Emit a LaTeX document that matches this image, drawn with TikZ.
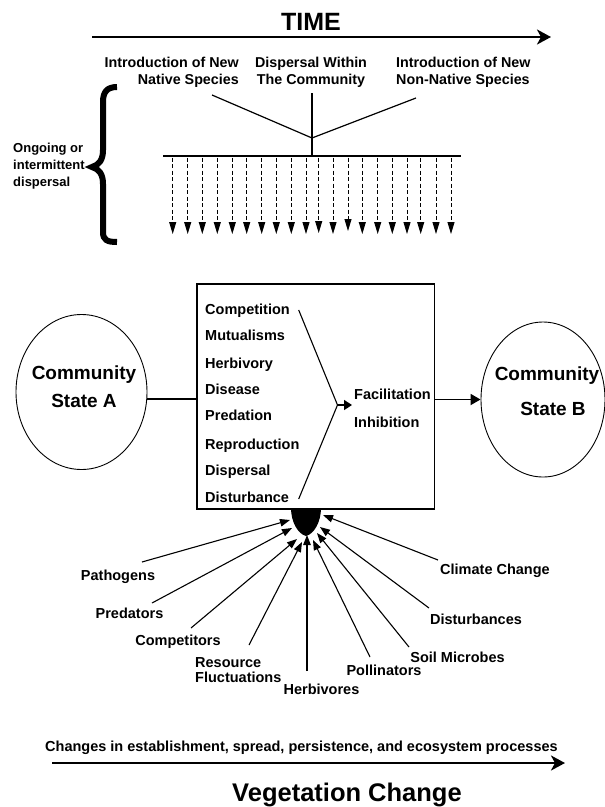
\documentclass[tikz,border=0pt]{standalone}
\usepackage{fontspec}
\setmainfont{Liberation Sans}
\usetikzlibrary{arrows.meta,shapes.geometric}
\begin{document}
\begin{tikzpicture}[x=1pt,y=-1pt,
  txt/.style={inner sep=0pt, font=\bfseries\fontsize{14.5}{17}\selectfont},
  toplab/.style={inner sep=0pt, font=\bfseries\fontsize{14.3}{17}\selectfont},
  bigarrow/.style={line width=2.8pt, -{Stealth[length=14pt,width=15pt,inset=4pt]}},
  dasharrow/.style={line width=0.9pt, dash pattern=on 4pt off 2.5pt, -{Triangle[length=12pt,width=7pt]}},
  fanarrow/.style={line width=1.1pt, -{Triangle[length=10pt,width=7.5pt]}},
  plainline/.style={line width=1.2pt},
  state/.style={ellipse, draw, line width=0.9pt, inner sep=0pt}
]
\useasboundingbox (0,0) rectangle (605,807);
\fill[white] (0,0) rectangle (605,807);

% ---------- TIME ----------
\node[inner sep=0pt, font=\bfseries\fontsize{25}{30}\selectfont, anchor=base] (time) at (311,30) {TIME};
\coordinate (t0) at (92,37);
\coordinate (t1) at (551,37);
\draw[bigarrow] (t0) -- (t1);

\node[toplab, align=right, anchor=east] (nat) at (239,72) {Introduction of New\\Native Species};
\node[toplab, align=center] (wit) at (311,72) {Dispersal Within\\The Community};
\node[toplab, align=left, anchor=west] (non) at (396,72) {Introduction of New\\Non-Native Species};

\coordinate (la) at (212,95);
\coordinate (jn) at (312,138);
\coordinate (ra) at (416,98);
\coordinate (vt) at (312,93);
\coordinate (vb) at (312,156);
\coordinate (hl) at (163,156);
\coordinate (hr) at (461,156);
\draw[plainline] (la) -- (jn) -- (ra);
\draw[plainline] (vt) -- (vb);
\draw[plainline] (hl) -- (hr);

\foreach \x/\t [count=\i] in {172.7/234,187.7/234,202.3/234,217.3/234,232.3/234,246.7/234,261.7/234,276.3/234,291.3/234,306/234,318.7/233,333/234,348/231,362.3/234,377.7/234,392.3/234,407/234,420.7/234,436/234,451/234}{
  \coordinate (ds\i) at (\x,157.5);
  \coordinate (de\i) at (\x,\t);
  \draw[dasharrow] (ds\i) -- (de\i);
}

% brace
\draw[line width=6pt] (117,87) .. controls (107,87) and (103,92) .. (103,102)
  -- (103,150) .. controls (103,160) and (99,165) .. (92,167)
  .. controls (99,169) and (103,174) .. (103,184)
  -- (103,232) .. controls (103,240) and (107,242) .. (117,242);

\node[inner sep=0pt, font=\bfseries\fontsize{13}{17}\selectfont, align=left, anchor=west] (ong) at (13,166) {Ongoing or\\intermittent\\dispersal};

% ---------- middle ----------
\node[draw, line width=1.5pt, minimum width=237.5pt, minimum height=225pt, inner sep=0pt] (box) at (315.75,396.5) {};
\node[state, minimum width=131pt, minimum height=155pt] (stateA) at (81.5,392) {};
\node[state, minimum width=124pt, minimum height=155pt] (stateB) at (543,399.5) {};
\node[inner sep=0pt, font=\bfseries\fontsize{19}{28}\selectfont, align=center] (txtA) at (84,387) {Community\\State A};
\node[inner sep=0pt, font=\bfseries\fontsize{19}{35}\selectfont, align=center] (txtB) at (547,391.5) {Community\\\hspace*{12pt}State B};

\draw[plainline] (stateA.-6) -- (box.west |- stateA.-6);
\draw[line width=1.8pt, -{Triangle[length=10pt,width=11pt]}] (box.east |- stateB.west) -- (stateB.west);

\foreach \n/\y/\s in {c1/314.5/Competition,c2/340/Mutualisms,c3/368.5/Herbivory,c4/394/Disease,c5/420/Predation,c6/449/Reproduction,c7/475/Dispersal,c8/502.5/Disturbance}{
  \node[txt, anchor=base west] (\n) at (205,\y) {\s};
}

\coordinate (cv1) at (298.7,310);
\coordinate (cvm) at (337.5,405);
\coordinate (cv2) at (298.7,499);
\coordinate (cvt) at (352,405);
\draw[line width=1.1pt] (cv1) -- (cvm) -- (cv2);
\draw[line width=1.5pt, -{Triangle[length=8pt,width=10pt]}] (cvm) -- (cvt);

\node[txt, anchor=base west] (fac) at (354,399) {Facilitation};
\node[txt, anchor=base west] (inh) at (354,427) {Inhibition};

% ---------- fan ----------
\fill (291,508) .. controls (291,522) and (298,534) .. (306,536)
  .. controls (314,534) and (321,522) .. (321,508) -- cycle;

\node[txt] (pat) at (118,577) {Pathogens};
\node[txt] (pre) at (129.5,613) {Predators};
\node[txt] (com) at (178,642) {Competitors};
\node[txt, align=left, anchor=west, font=\bfseries\fontsize{14.5}{15.5}\selectfont] (res) at (195,670) {Resource\\Fluctuations};
\node[txt] (her) at (321.5,689) {Herbivores};
\node[txt] (pol) at (384,670) {Pollinators};
\node[txt] (soi) at (457.5,657) {Soil Microbes};
\node[txt] (dis) at (476,619) {Disturbances};
\node[txt] (cli) at (495,571) {Climate Change};

\foreach \n/\ax/\ay/\bx/\by in {pat/142/562/290/520, pre/152/603/292/528, com/191/628/297/539, res/249/645/302/542, her/307/671/307/535, pol/370/657/313/540, soi/409/647/317/533, dis/429/608/320/527, cli/438/560/323/515}{
  \coordinate (\n s) at (\ax,\ay);
  \coordinate (\n e) at (\bx,\by);
  \draw[fanarrow] (\n s) -- (\n e);
}

% ---------- bottom ----------
\node[txt, anchor=base west] (chg) at (45,751) {Changes in establishment, spread, persistence, and ecosystem processes};
\coordinate (v0) at (52,763);
\coordinate (v1) at (565,763);
\draw[bigarrow] (v0) -- (v1);
\node[inner sep=0pt, font=\bfseries\fontsize{25.5}{30}\selectfont, anchor=base] (veg) at (347,801) {Vegetation Change};
\end{tikzpicture}
\end{document}
